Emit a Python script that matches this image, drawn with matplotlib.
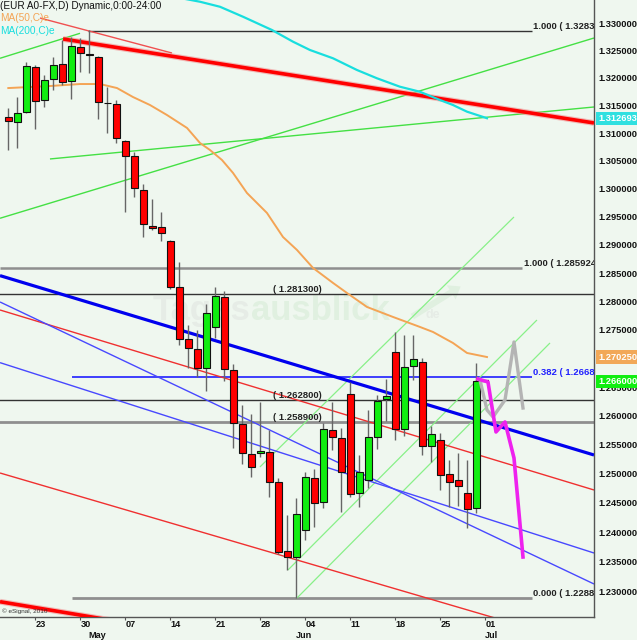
import numpy as np
import matplotlib
matplotlib.use("Agg")
import matplotlib.pyplot as plt
from matplotlib.ticker import FixedLocator, NullLocator, FixedFormatter
from matplotlib.transforms import blended_transform_factory

BG = '#eff7ef'
FONT = 'Liberation Sans'

# ---------------- data (EUR/USD daily, 18 Apr - 29 Jun) ----------------
opens = [1.31291, 1.31201, 1.31382, 1.32198, 1.31598, 1.31979, 1.32252, 1.31943, 1.32562, 1.32434,
         1.32380, 1.31550, 1.31526, 1.30858, 1.30588, 1.29979, 1.29337, 1.29319, 1.29070, 1.28256,
         1.27341, 1.27166, 1.26834, 1.27552, 1.28079, 1.26799, 1.25860, 1.25341, 1.25358, 1.25376,
         1.24860, 1.23679, 1.23577, 1.24038, 1.24928, 1.24516, 1.25756, 1.25618, 1.26381, 1.24670,
         1.24894, 1.25635, 1.26293, 1.27113, 1.25774, 1.26869, 1.26939, 1.25479, 1.25583, 1.24997,
         1.24894, 1.24670, 1.24413]
highs = [1.31454, 1.31652, 1.32289, 1.32234, 1.32052, 1.32380, 1.32690, 1.32744, 1.32726, 1.32872,
         1.32390, 1.31833, 1.31598, 1.30880, 1.30660, 1.30087, 1.29818, 1.29586, 1.29080, 1.28698,
         1.27587, 1.27499, 1.27956, 1.28256, 1.28185, 1.26904, 1.26189, 1.26034, 1.26241, 1.25756,
         1.24928, 1.24294, 1.24584, 1.25032, 1.25083, 1.25878, 1.26241, 1.25791, 1.26590, 1.25324,
         1.26103, 1.26364, 1.26642, 1.27464, 1.27411, 1.27411, 1.27008, 1.25826, 1.25700, 1.25238,
         1.25358, 1.25238, 1.26921]
lows = [1.30696, 1.30732, 1.31363, 1.31075, 1.31472, 1.31779, 1.31870, 1.31616, 1.32107, 1.32088,
        1.31255, 1.31003, 1.30822, 1.29586, 1.29854, 1.29141, 1.29266, 1.29070, 1.28220, 1.27236,
        1.26834, 1.26677, 1.26433, 1.27359, 1.26608, 1.25445, 1.25169, 1.24946, 1.25290, 1.24602,
        1.23628, 1.23357, 1.22882, 1.23867, 1.24089, 1.24413, 1.25410, 1.24345, 1.24602, 1.24430,
        1.24756, 1.25427, 1.25912, 1.25583, 1.25650, 1.26625, 1.25324, 1.25204, 1.24722, 1.24430,
        1.24448, 1.24072, 1.24328]
closes = [1.31219, 1.31363, 1.32216, 1.31580, 1.31961, 1.32234, 1.31925, 1.32580, 1.32452, 1.32416,
          1.31562, 1.31540, 1.30913, 1.30588, 1.30015, 1.29373, 1.29302, 1.29213, 1.28256, 1.27341,
          1.27183, 1.26834, 1.27798, 1.28097, 1.26817, 1.25878, 1.25358, 1.25118, 1.25393, 1.24860,
          1.23662, 1.23577, 1.24311, 1.24946, 1.24499, 1.25774, 1.25635, 1.25032, 1.24653, 1.25032,
          1.25635, 1.26259, 1.26346, 1.25774, 1.26852, 1.26991, 1.25479, 1.25687, 1.24980, 1.24860,
          1.24790, 1.24396, 1.26600]
next_open = 1.26600

tick_pos = [3, 8, 13, 18, 23, 28, 33, 38, 43, 48, 53]
tick_labels = ['23', '30', '07', '14', '21', '28', '04', '11', '18', '25', '01']
month_pos = [9, 32, 53]
month_labels = ['May', 'Jun', 'Jul']

price_ticks = [1.230, 1.235, 1.240, 1.245, 1.250, 1.255, 1.260, 1.265, 1.270, 1.275,
               1.280, 1.285, 1.290, 1.295, 1.300, 1.305, 1.310, 1.315, 1.320, 1.325, 1.330]
price_hidden = [1.270]   # covered by the MA(50) value box in the reference

ma50_x = [0.0, 4.63, 7.97, 10.19, 12.08, 13.86, 15.74, 17.63, 19.86, 21.3, 22.41, 23.74, 24.97,
          26.52, 28.74, 30.52, 32.08, 33.86, 36.08, 37.63, 39.86, 42.74, 45.74, 47.19, 49.41,
          50.97, 53.19]
ma50_y = [1.31815, 1.31852, 1.31888, 1.31888, 1.31815, 1.31652, 1.31508, 1.31327, 1.31093,
          1.30822, 1.30696, 1.30517, 1.30284, 1.29925, 1.29569, 1.29141, 1.28910, 1.28592,
          1.28327, 1.28150, 1.27903, 1.27728, 1.27552, 1.27464, 1.27271, 1.27096, 1.27025]
ma200_x = [18.52, 21.3, 23.52, 26.08, 29.3, 31.63, 33.52, 36.08, 38.74, 40.97, 43.52, 45.74,
           47.97, 49.41, 50.97, 53.19]
ma200_y = [1.33477, 1.33390, 1.33298, 1.33115, 1.32872, 1.32659, 1.32507, 1.32356, 1.32143,
           1.31992, 1.31839, 1.31748, 1.31598, 1.31508, 1.31387, 1.31269]

proj_mag_x = [52.19, 53.3, 54.19, 55.19, 56.19, 57.19]
proj_mag_y = [1.26642, 1.26590, 1.25722, 1.25895, 1.25272, 1.23577]
proj_gray_x = [52.41, 53.19, 53.86, 55.19, 56.19, 57.19]
proj_gray_y = [1.26625, 1.26103, 1.25982, 1.26276, 1.27288, 1.26137]

# trend lines: (x0, p0, x1, p1)
red_thick_hi = (6.08, 1.32708, 65.08, 1.31183)
red_thick_lo = (-0.92, 1.22819, 15.74, 1.22398)
red_thin_top = (3.52, 1.33092, 18.19, 1.32452)
red_thin_mid = (-0.92, 1.27850, 65.08, 1.24722)
red_thin_low = (-0.92, 1.25014, 65.08, 1.22056)
blue_thick = (-0.92, 1.28456, 65.08, 1.25324)
blue_thin_a = (-0.92, 1.27991, 65.08, 1.23119)
blue_thin_b = (-0.92, 1.26927, 65.08, 1.23645)
green_a = (-0.92, 1.32356, 7.97, 1.32812)
green_b = (-0.92, 1.29474, 65.08, 1.32726)
green_c = (4.63, 1.30535, 65.08, 1.31472)
chan_1 = (27.96, 1.25118, 56.19, 1.29497)
chan_2 = (31.08, 1.23357, 58.74, 1.27674)
chan_3 = (32.08, 1.22882, 60.19, 1.27271)

fib_full = [1.2813, 1.2628, 1.2589]
fib_full_text = ['( 1.281300)', '( 1.262800)', '( 1.258900)']
fib_hi = 1.3285
fib_hi_text = '1.000 ( 1.3283'
fib_mid = 1.28592
fib_mid_text = '1.000 ( 1.285924'
fib_382 = 1.26682
fib_382_text = '0.382 ( 1.2668'
fib_zero = 1.22882
fib_zero_text = '0.000 ( 1.2288'

last_ma200 = 1.312693
last_ma50 = 1.270250
last_close = 1.266000

# ---------------- figure ----------------
W, H = 637, 640
fig = plt.figure(figsize=(W / 100, H / 100), dpi=100, facecolor=BG)
ax = fig.add_axes([0, 23 / H, 594 / W, 617 / H])
ax.set_facecolor(BG)
ax.set_yscale('log')
ax.set_xlim(-0.922, 65.08)
ax.set_ylim(1.22561, 1.33422)

for s in ['left', 'top']:
    ax.spines[s].set_visible(False)
for s in ['right', 'bottom']:
    ax.spines[s].set_color('#555555')
    ax.spines[s].set_linewidth(1.0)

# faint watermark (behind everything in the axes)
ft = fig.transFigure
wm1 = ax.text(153 / W, 1 - 320 / H, 'Tages', fontsize=25, fontweight='bold', transform=ft,
              family=FONT, color='#e6ece6', va='baseline', zorder=0.5)
fig.canvas.draw()
bb = wm1.get_window_extent()
ax.text(bb.x1 / W, 1 - 320 / H, 'ausblick', fontsize=25, fontweight='bold', transform=ft,
        family=FONT, color='#e0f0e0', va='baseline', zorder=0.5)
ax.text(425 / W, 1 - 318 / H, 'de', fontsize=9, fontweight='bold', family=FONT, transform=ft,
        color='#e6ece6', va='baseline', zorder=0.5)
ax.annotate('', xy=(463 / W, 1 - 285 / H), xytext=(410 / W, 1 - 318 / H),
            xycoords='figure fraction', textcoords='figure fraction',
            arrowprops=dict(arrowstyle='simple,head_width=1.2,head_length=0.8,tail_width=0.45',
                            color='#e0f0e0', lw=0), zorder=0.5)

def seg(t, **kw):
    ax.plot([t[0], t[2]], [t[1], t[3]], solid_capstyle='butt', **kw)

# horizontal fib lines
for p in fib_full[:2]:
    ax.axhline(p, color='#333333', lw=1.0, zorder=2)
ax.axhline(fib_full[2], color='#8f8f8f', lw=2.0, zorder=2)
ax.hlines(fib_mid, -0.922, 57.08, color='#8f8f8f', lw=1.8, zorder=2)
ax.hlines(fib_hi, 8.87, 58.16, color='#333333', lw=1.0, zorder=2)
ax.hlines(fib_382, 7.08, 58.16, color='#2020ff', lw=1.2, zorder=2)
ax.hlines(fib_zero, 7.08, 58.16, color='#8f8f8f', lw=2.0, zorder=2)

lab_kw = dict(fontsize=6.8, fontweight='bold', family=FONT, clip_on=True,
              textcoords='offset points', va='baseline', zorder=6)
for p, t in zip(fib_full, fib_full_text):
    ax.annotate(t, xy=(32.08, p), xytext=(0, 1.5), ha='center', color='#222222', **lab_kw)
ax.annotate(fib_hi_text, xy=(58.3, fib_hi), xytext=(0, 1.5), ha='left', color='#222222', **lab_kw)
ax.annotate(fib_mid_text, xy=(57.25, fib_mid), xytext=(0, 1.5), ha='left', color='#222222', **lab_kw)
ax.annotate(fib_382_text, xy=(58.3, fib_382), xytext=(0, 1.5), ha='left', color='#2020ff', **lab_kw)
ax.annotate(fib_zero_text, xy=(58.3, fib_zero), xytext=(0, 1.5), ha='left', color='#222222', **lab_kw)

# trend lines
for t in [green_a, green_b, green_c]:
    seg(t, color='#44e044', lw=1.0, zorder=2)
for t in [chan_1, chan_2, chan_3]:
    seg(t, color='#88f088', lw=0.9, zorder=2)
seg(red_thin_top, color='#f05050', lw=1.0, zorder=2)
seg(red_thin_mid, color='#f03030', lw=1.0, zorder=2)
seg(red_thin_low, color='#f03030', lw=1.0, zorder=2)
seg(blue_thin_a, color='#4848ff', lw=1.0, zorder=2)
seg(blue_thin_b, color='#4848ff', lw=1.0, zorder=2)
seg(blue_thick, color='#0000ee', lw=2.3, zorder=3)
for t in [red_thick_hi, red_thick_lo]:
    seg(t, color='#f09090', lw=4.2, zorder=3, alpha=0.6)
    seg(t, color='#ff0000', lw=2.6, zorder=3)

# moving averages
ax.plot(ma50_x, ma50_y, color='#f4a455', lw=1.4, zorder=3)
ax.plot(ma200_x, ma200_y, color='#18dede', lw=1.6, zorder=3)

# candles
x = np.arange(len(opens))
o = np.array(opens); c = np.array(closes)
ax.vlines(x, lows, highs, color='#666666', lw=1.0, zorder=4)
up = c >= o
bottom = np.minimum(o, c)
height = np.maximum(np.abs(c - o), 0.00012)
ax.bar(x, height, bottom=bottom, width=0.74, color=np.where(up, '#10ee10', '#ff0000'),
       edgecolor='#111111', linewidth=0.8, zorder=5)
ax.hlines(next_open, 53 - 0.4, 53 + 0.4, color='#111111', lw=1.6, zorder=5)

# projections
ax.plot(proj_gray_x, proj_gray_y, color='#b4b4b4', lw=2.4, zorder=6)
ax.plot(proj_mag_x, proj_mag_y, color='#ee22ee', lw=2.6, zorder=6)

# axes ticks
ax.yaxis.tick_right()
ax.yaxis.set_major_locator(FixedLocator(price_ticks))
ax.yaxis.set_minor_locator(NullLocator())
ax.yaxis.set_major_formatter(FixedFormatter(
    ['' if p in price_hidden else '%.6f' % p for p in price_ticks]))
ax.tick_params(axis='y', length=0, pad=3)
for lbl in ax.get_yticklabels():
    lbl.set_fontsize(6.7); lbl.set_fontweight('bold'); lbl.set_family(FONT); lbl.set_color('#111111')

ax.xaxis.set_major_locator(FixedLocator(tick_pos))
ax.xaxis.set_major_formatter(FixedFormatter(tick_labels))
ax.tick_params(axis='x', length=2, width=0.8, color='#555555', pad=0.2)
for lbl in ax.get_xticklabels():
    lbl.set_fontsize(6.6); lbl.set_fontweight('bold'); lbl.set_family(FONT)
    lbl.set_ha('left'); lbl.set_color('#111111')
bt = blended_transform_factory(ax.transData, fig.transFigure)
for p, t in zip(month_pos, month_labels):
    ax.text(p - 0.1, 0.0, t, transform=bt, fontsize=6.6, fontweight='bold',
            family=FONT, ha='left', va='bottom', color='#111111', clip_on=False)

# value boxes on right axis
rt = blended_transform_factory(ax.transAxes, ax.transData)
for val, bg in [(last_ma200, '#30e0e0'), (last_ma50, '#f2a858'), (last_close, '#10ee10')]:
    ax.text(1.0 + 4 / 594, val, '%.6f' % val, transform=rt, fontsize=6.7, fontweight='bold',
            family=FONT, color='white', ha='left', va='center', clip_on=False, zorder=10,
            bbox=dict(boxstyle='square,pad=0.22', facecolor=bg, edgecolor='none'))

# header texts
fig.text(0 / W, 1 - 6 / H, '(EUR A0-FX,D) Dynamic,0:00-24:00', fontsize=7.2, family=FONT,
         color='#111111', va='center', ha='left')
fig.text(0 / W, 1 - 18 / H, 'MA(50,C)e', fontsize=7.3, family=FONT, color='#f4a455',
         va='center', ha='left')
fig.text(0 / W, 1 - 30.5 / H, 'MA(200,C)e', fontsize=7.3, family=FONT, color='#18dede',
         va='center', ha='left')
fig.text(2 / W, 1 - 611.5 / H, '\u00a9 eSignal, 2010', fontsize=4.6, family=FONT,
         color='#333333', va='center', ha='left')

fig.savefig('out.png', dpi=100, facecolor=BG)
